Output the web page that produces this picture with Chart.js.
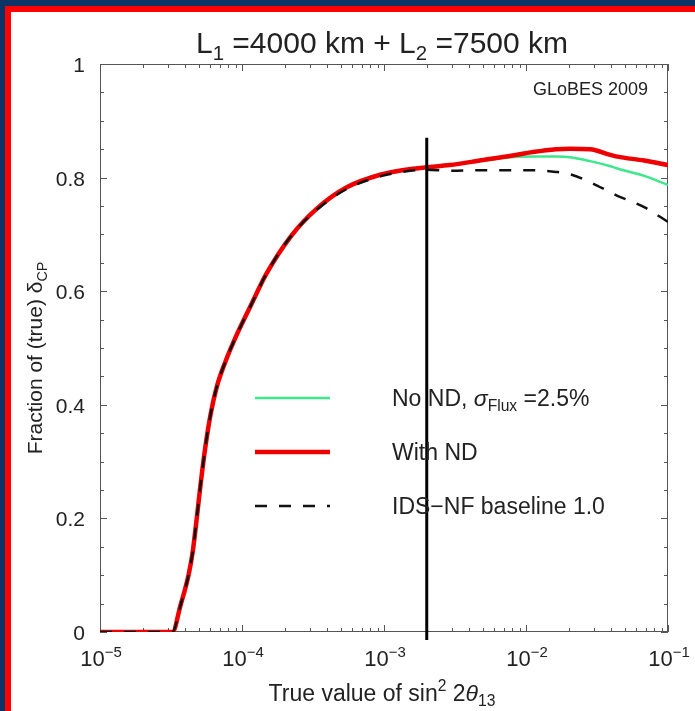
<!DOCTYPE html>
<html>
<head>
<meta charset="utf-8">
<script src="https://cdn.jsdelivr.net/npm/chart.js@4.4.1/dist/chart.umd.min.js"></script>
<style>
	html, body { margin: 0; padding: 0; overflow: hidden; background: #0d3466; }
	canvas { display: block; }
</style>
</head>
<body>
<canvas id="chartFraction" width="695" height="711"></canvas>
<script>
// sin^2 2theta13 grid shared by all three curves
const xValues = [1e-5, 2e-5, 3.24e-5, 3.69e-5, 4.2e-5, 4.49e-5, 4.8e-5, 5.12e-5, 5.55e-5, 6.03e-5,
	6.65e-5, 7.7e-5, 9.06e-5, 1.16e-4, 1.48e-4, 2.23e-4, 3.35e-4, 5.47e-4, 9.7e-4, 1.34e-3,
	1.95e-3, 2.9e-3, 5e-3, 7.7e-3, 1.12e-2, 1.63e-2, 2.04e-2, 2.83e-2, 3.93e-2, 4.4e-2,
	6.8e-2, 0.1];

const withND = [0, 0, 0, 0.047, 0.1, 0.14, 0.2, 0.262, 0.33, 0.385,
	0.432, 0.478, 0.52, 0.576, 0.63, 0.698, 0.745, 0.783, 0.806, 0.813,
	0.818, 0.822, 0.831, 0.838, 0.845, 0.85, 0.851, 0.85, 0.84, 0.837,
	0.83, 0.822];

const noND = [0, 0, 0, 0.047, 0.1, 0.14, 0.2, 0.262, 0.33, 0.385,
	0.432, 0.478, 0.52, 0.576, 0.63, 0.698, 0.745, 0.783, 0.806, 0.813,
	0.818, 0.822, 0.83, 0.836, 0.837, 0.837, 0.836, 0.829, 0.82, 0.816,
	0.803, 0.787];

const idsNF = [0, 0, 0, 0.047, 0.1, 0.14, 0.2, 0.262, 0.33, 0.385,
	0.432, 0.478, 0.52, 0.576, 0.63, 0.698, 0.743, 0.78, 0.803, 0.81,
	0.814, 0.812, 0.813, 0.813, 0.813, 0.81, 0.806, 0.792, 0.774, 0.768,
	0.748, 0.722];

// vertical marker
const markerX = [2.0e-3, 2.0e-3];
const markerY = [0.87, -0.014];

const xTickPowers = [-5, -4, -3, -2, -1];
const yTickValues = [0, 0.2, 0.4, 0.6, 0.8, 1];

const FONT = '"Liberation Sans", Arial, sans-serif';
const INK = "#222";

function pts(xs, ys) {
	return xs.map((x, i) => ({ x: x, y: ys[i] }));
}

// draws a run of text pieces; piece = [text, kind] with kind "", "sub", "sup", "it"
function drawRich(ctx, parts, x, y, size, align) {
	const measure = (p) => {
		const s = p[1] === "sub" || p[1] === "sup" ? size * 0.68 : size;
		ctx.font = (p[1] === "it" ? "italic " : "") + s + "px " + FONT;
		return ctx.measureText(p[0]).width;
	};
	let total = 0;
	parts.forEach((p) => (total += measure(p)));
	let cx = align === "center" ? x - total / 2 : align === "right" ? x - total : x;
	ctx.textAlign = "left";
	ctx.textBaseline = "alphabetic";
	parts.forEach((p) => {
		const w = measure(p);
		let dy = 0;
		if (p[1] === "sub") dy = size * 0.22;
		if (p[1] === "sup") dy = -size * 0.42;
		ctx.fillText(p[0], cx, y + dy);
		cx += w;
	});
}

const decorPlugin = {
	id: "decor",
	beforeDraw(chart) {
		const ctx = chart.ctx;
		ctx.save();
		ctx.fillStyle = "#0d3466";
		ctx.fillRect(0, 0, chart.width, chart.height);
		ctx.fillStyle = "#ff0000";
		ctx.fillRect(5, 6, chart.width, chart.height);
		ctx.fillStyle = "#ffffff";
		ctx.fillRect(11, 12, chart.width, chart.height);
		ctx.restore();
	},
	beforeDatasetsDraw(chart) {
		const ctx = chart.ctx;
		const a = chart.chartArea;
		const xs = chart.scales.x;
		const ys = chart.scales.y;
		ctx.save();
		ctx.strokeStyle = "#555";
		ctx.lineWidth = 1;
		ctx.strokeRect(a.left + 0.5, a.top + 0.5, a.right - a.left - 1, a.bottom - a.top - 1);

		ctx.beginPath();
		// x ticks, inward on bottom and top
		for (let p = -5; p < -1; p++) {
			for (let m = 1; m <= 10; m++) {
				const px = Math.round(xs.getPixelForValue(m * Math.pow(10, p))) + 0.5;
				const len = m === 1 || m === 10 ? 7 : 4;
				ctx.moveTo(px, a.bottom);
				ctx.lineTo(px, a.bottom - len);
				ctx.moveTo(px, a.top);
				ctx.lineTo(px, a.top + len);
			}
		}
		// y ticks every 0.05, inward on left and right
		for (let i = 0; i <= 20; i++) {
			const py = Math.round(ys.getPixelForValue(i * 0.05)) + 0.5;
			const len = i % 4 === 0 ? 7 : 4;
			ctx.moveTo(a.left, py);
			ctx.lineTo(a.left + len, py);
			ctx.moveTo(a.right, py);
			ctx.lineTo(a.right - len, py);
		}
		ctx.stroke();
		ctx.restore();
	},
	afterDraw(chart) {
		const ctx = chart.ctx;
		const a = chart.chartArea;
		const xs = chart.scales.x;
		const ys = chart.scales.y;
		ctx.save();
		ctx.fillStyle = INK;

		// y tick labels
		ctx.font = "21px " + FONT;
		ctx.textAlign = "right";
		ctx.textBaseline = "alphabetic";
		yTickValues.forEach((v) => {
			ctx.fillText(String(v), a.left - 15, ys.getPixelForValue(v) + 8);
		});

		// x tick labels 10^n
		xTickPowers.forEach((p) => {
			const px = xs.getPixelForValue(Math.pow(10, p));
			drawRich(ctx, [["10", ""], ["\u2212" + -p, "sup"]], px + 1, a.bottom + 34, 22, "center");
		});

		// title
		drawRich(ctx, [["L", ""], ["1", "sub"], [" =4000 km + L", ""], ["2", "sub"], [" =7500 km", ""]],
			382, 53, 30, "center");

		// tag
		ctx.font = "18px " + FONT;
		ctx.textAlign = "right";
		ctx.textBaseline = "alphabetic";
		ctx.fillText("GLoBES 2009", 648, 95);

		// axis titles
		drawRich(ctx, [["True value of sin", ""], ["2", "sup"], [" 2", ""], ["\u03b8", "it"], ["13", "sub"]],
			382, 701, 23, "center");
		ctx.save();
		ctx.translate(42, 358);
		ctx.rotate(-Math.PI / 2);
		drawRich(ctx, [["Fraction of (true) ", ""], ["\u03b4", ""], ["CP", "sub"]], 0, 0, 21, "center");
		ctx.restore();

		// legend
		const items = [
			{ ds: 0, text: [["No ND, ", ""], ["\u03c3", "it"], ["Flux", "sub"], [" =2.5%", ""]], y: 398 },
			{ ds: 1, text: [["With ND", ""]], y: 452 },
			{ ds: 2, text: [["IDS\u2212NF baseline 1.0", ""]], y: 506 },
		];
		items.forEach((it) => {
			const d = chart.data.datasets[it.ds];
			ctx.save();
			ctx.strokeStyle = d.borderColor;
			ctx.lineWidth = d.borderWidth;
			ctx.setLineDash(d.borderDash || []);
			ctx.beginPath();
			ctx.moveTo(255, it.y);
			ctx.lineTo(330, it.y);
			ctx.stroke();
			ctx.restore();
			ctx.fillStyle = INK;
			drawRich(ctx, it.text, 392, it.y + 8, 23, "left");
		});
		ctx.restore();
	},
};

new Chart(document.getElementById("chartFraction"), {
	type: "line",
	data: {
		datasets: [
			{
				label: "No ND",
				data: pts(xValues, noND),
				borderColor: "#3ee68c",
				borderWidth: 2.5,
				order: 3,
			},
			{
				label: "With ND",
				data: pts(xValues, withND),
				borderColor: "#ee0000",
				borderWidth: 4.5,
				order: 2,
			},
			{
				label: "IDS-NF baseline 1.0",
				data: pts(xValues, idsNF),
				borderColor: "#111",
				borderWidth: 2.5,
				borderDash: [12, 12],
				order: 1,
			},
			{
				label: "marker",
				data: pts(markerX, markerY),
				borderColor: "#000",
				borderWidth: 3,
				clip: false,
				order: 0,
			},
		],
	},
	options: {
		responsive: false,
		animation: false,
		devicePixelRatio: 1,
		layout: { padding: { left: 100, right: 27, top: 64, bottom: 79 } },
		elements: {
			point: { radius: 0 },
			line: { cubicInterpolationMode: "monotone" },
		},
		scales: {
			x: { type: "logarithmic", min: 1e-5, max: 0.1, display: false },
			y: { type: "linear", min: 0, max: 1, display: false },
		},
		plugins: { legend: { display: false }, tooltip: { enabled: false } },
	},
	plugins: [decorPlugin],
});
</script>
</body>
</html>
